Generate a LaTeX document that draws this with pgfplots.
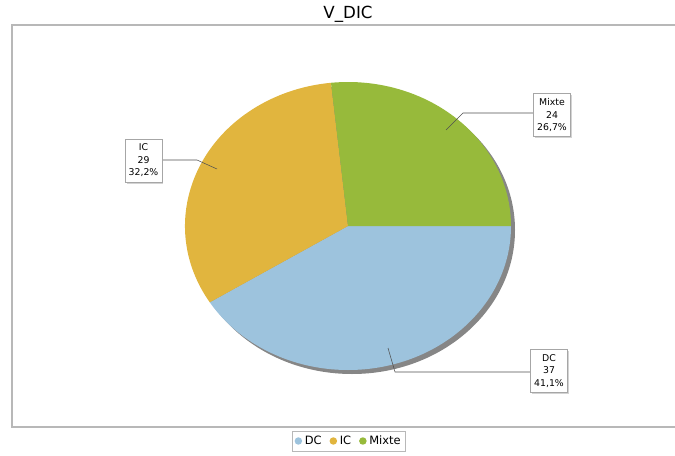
\documentclass[border=0pt]{standalone}
\usepackage{pgfplots}
\pgfplotsset{compat=1.18}
\usepackage{pgfplotstable}
\usepackage{fontspec}
\setmainfont{DejaVu Sans}
\usetikzlibrary{shadows}
\definecolor{dccol}{HTML}{9DC3DD}
\definecolor{iccol}{HTML}{E1B53E}
\definecolor{mxcol}{HTML}{97BA3B}
\definecolor{framecol}{HTML}{B8B8B8}
\definecolor{leadcol}{HTML}{505050}

\pgfplotstableread{
label value
DC 37
IC 29
Mixte 24
}\piedata

\begin{document}
\begin{tikzpicture}
\pgfplotstablegetelem{0}{value}\of\piedata \let\va\pgfplotsretval
\pgfplotstablegetelem{1}{value}\of\piedata \let\vb\pgfplotsretval
\pgfplotstablegetelem{2}{value}\of\piedata \let\vc\pgfplotsretval
\pgfmathsetmacro\tot{\va+\vb+\vc}
\pgfmathsetmacro\aA{-360*\va/\tot}
\pgfmathsetmacro\aB{\aA-360*\vb/\tot}
\begin{axis}[
  width=506.25pt, height=341.25pt, scale only axis,
  xmin=0, xmax=675, ymin=0, ymax=455,
  hide axis, clip=false,
  legend columns=3,
  legend image code/.code={\fill[#1] (0.12cm,0cm) circle (2.8pt);},
  legend style={at={(axis cs:349,14)}, anchor=center, draw=framecol,
    font=\fontsize{8.6}{10}\selectfont, inner sep=1.5pt,
    /tikz/every even column/.append style={column sep=4pt}},
]
% frame
\draw[framecol, line width=1.1pt] (axis cs:675,430) -- (axis cs:12,430) -- (axis cs:12,28) -- (axis cs:675,28);
% title
\node[font=\fontsize{12.5}{14}\selectfont] at (axis cs:348,441) {V\_DIC};
% shadow
\fill[gray!95] (axis cs:352,225) ellipse[x radius=122.25pt, y radius=108pt];
% slices
\fill[dccol] (axis cs:348,229) -- +(0:122.25pt and 108pt) arc[start angle=0, end angle=\aA, x radius=122.25pt, y radius=108pt] -- cycle;
\fill[iccol] (axis cs:348,229) -- +(\aA:122.25pt and 108pt) arc[start angle=\aA, end angle=\aB, x radius=122.25pt, y radius=108pt] -- cycle;
\fill[mxcol] (axis cs:348,229) -- +(\aB:122.25pt and 108pt) arc[start angle=\aB, end angle=-360, x radius=122.25pt, y radius=108pt] -- cycle;
% leaders
\draw[leadcol, line width=0.4pt] (axis cs:446,325) -- (axis cs:463,342) -- (axis cs:533,342);
\draw[leadcol, line width=0.4pt] (axis cs:217,286) -- (axis cs:197,295) -- (axis cs:125,295);
\draw[leadcol, line width=0.4pt] (axis cs:388,107) -- (axis cs:395,83) -- (axis cs:532,83);
% label boxes
\tikzset{lbl/.style={draw=gray!70, fill=white, align=center, inner sep=1.2pt,
  minimum width=27.5pt, minimum height=32.5pt,
  font=\fontsize{7}{9.4}\selectfont,
  drop shadow={shadow xshift=1pt, shadow yshift=-1pt, opacity=0.35}}}
\node[lbl] at (axis cs:552,340) {Mixte\\24\\26,7\%};
\node[lbl] at (axis cs:143.5,294.5) {IC\\29\\32,2\%};
\node[lbl] at (axis cs:549,84) {DC\\37\\41,1\%};
\addlegendimage{fill=dccol, draw=none}
\addlegendentry{DC}
\addlegendimage{fill=iccol, draw=none}
\addlegendentry{IC}
\addlegendimage{fill=mxcol, draw=none}
\addlegendentry{Mixte}
\end{axis}
\pgfresetboundingbox
\useasboundingbox (current axis.south west) rectangle (current axis.north east);
\end{tikzpicture}
\end{document}
